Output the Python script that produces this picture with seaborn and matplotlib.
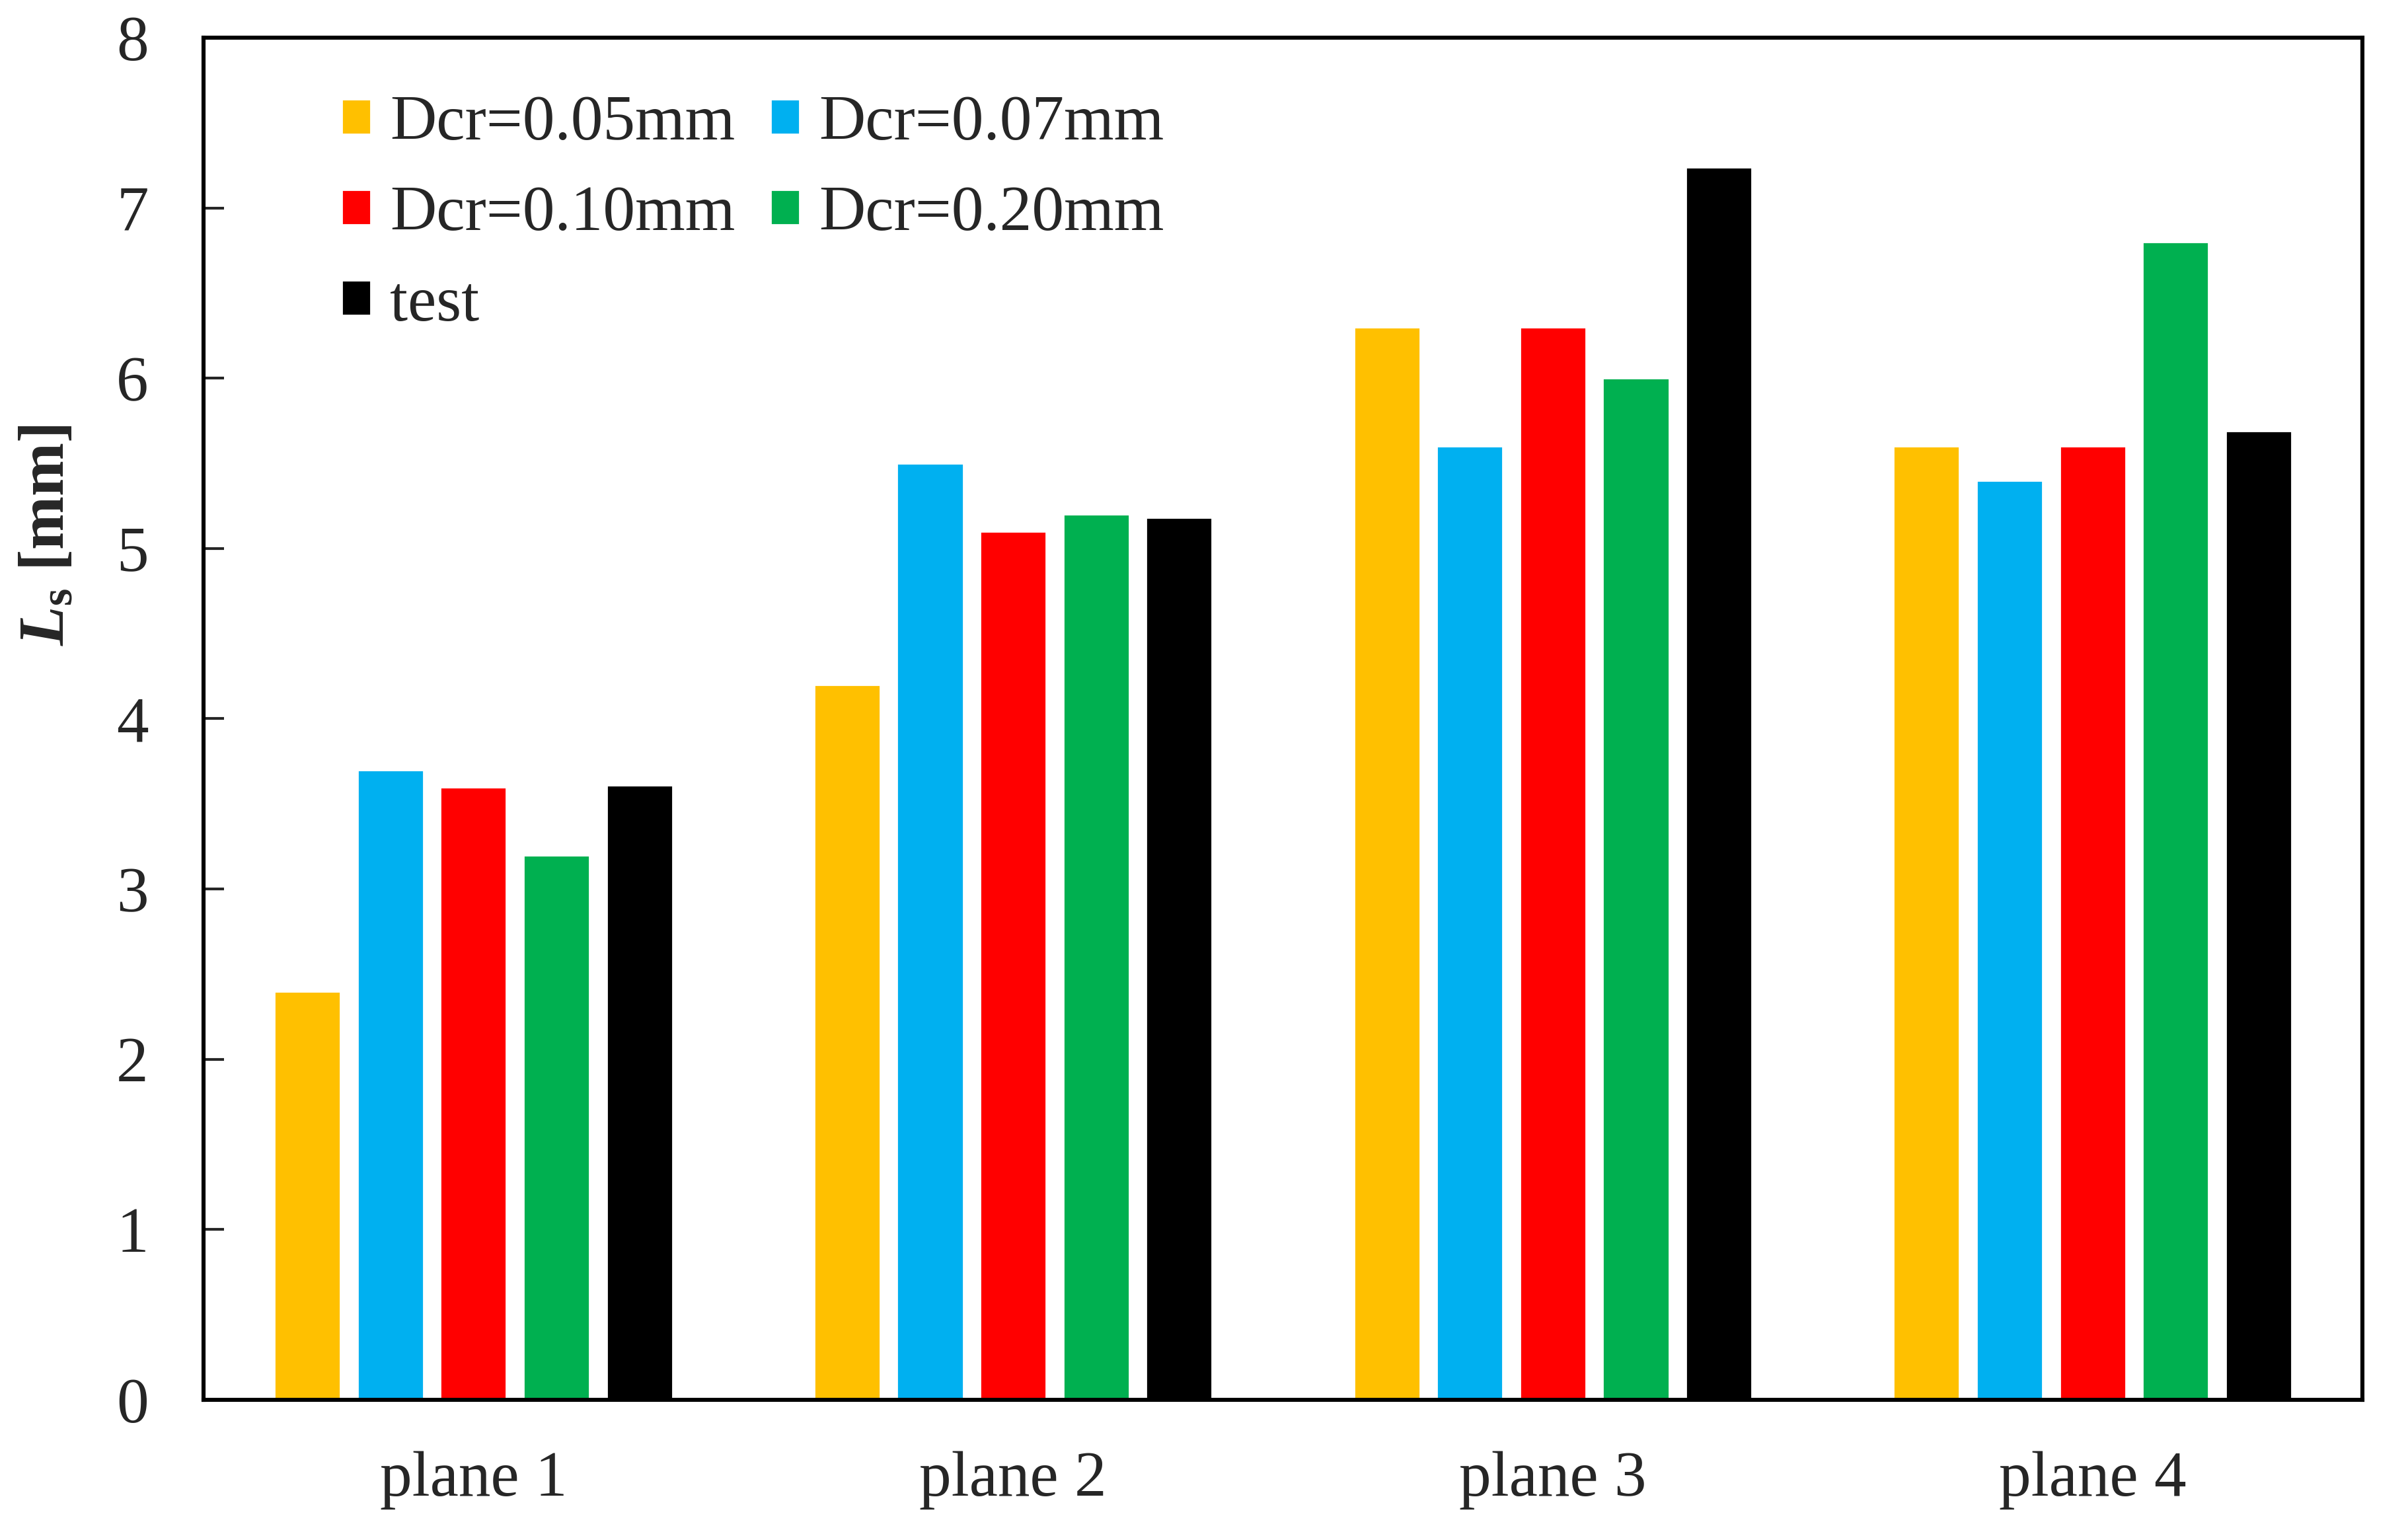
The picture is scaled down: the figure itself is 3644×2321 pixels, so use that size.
import matplotlib
matplotlib.use("Agg")
import matplotlib.pyplot as plt
import seaborn as sns
import pandas as pd

planes = ["plane 1", "plane 2", "plane 3", "plane 4"]
series = ["Dcr=0.05mm", "Dcr=0.07mm", "Dcr=0.10mm", "Dcr=0.20mm", "test"]
dcr005 = [2.4, 4.2, 6.3, 5.6]
dcr007 = [3.7, 5.5, 5.6, 5.4]
dcr010 = [3.6, 5.1, 6.3, 5.6]
dcr020 = [3.2, 5.2, 6.0, 6.8]
test = [3.61, 5.18, 7.24, 5.69]
colors = ["#FFC000", "#00B0F0", "#FF0000", "#00B050", "#000000"]
yticks = [0, 1, 2, 3, 4, 5, 6, 7, 8]

rows = []
for name, vals in zip(series, [dcr005, dcr007, dcr010, dcr020, test]):
    for p, v in zip(planes, vals):
        rows.append({"plane": p, "series": name, "Ls": v})
df = pd.DataFrame(rows)

sns.set_theme(style="ticks")
plt.rcParams["font.family"] = ["Liberation Serif", "DejaVu Serif"]
plt.rcParams["mathtext.fontset"] = "custom"
plt.rcParams["mathtext.it"] = "Liberation Serif:italic:bold"
plt.rcParams["mathtext.rm"] = "Liberation Serif:bold"
plt.rcParams["mathtext.bf"] = "Liberation Serif:bold"

fig = plt.figure(figsize=(18.22, 11.605), dpi=200)
ax = fig.add_axes([0.08452, 0.08746, 0.89654, 0.8880])

sns.barplot(data=df, x="plane", y="Ls", hue="series", order=planes,
            hue_order=series, palette=colors, width=0.769, gap=0.203,
            saturation=1, ax=ax, legend=True)

ax.set_xlim(-0.5, 3.5)
ax.set_ylim(0, 8)
ax.set_yticks(yticks)
ax.set_yticklabels([str(t) for t in yticks])
ax.set_xlabel("")
ax.set_ylabel(r"$L_\mathrm{s}$ [mm]", fontsize=35, fontweight="bold")
ax.yaxis.set_label_coords(-0.0585, 0.635)

for s in ax.spines.values():
    s.set_visible(True)
    s.set_linewidth(2.2)
    s.set_color("black")
ax.tick_params(axis="y", direction="in", length=11, width=1.5, labelsize=35, pad=30)
ax.tick_params(axis="x", length=0, labelsize=35, pad=28)

handles, labels = ax.get_legend_handles_labels()
order = [0, 2, 4, 1, 3]
ax.legend([handles[i] for i in order], [labels[i] for i in order], ncol=2,
          loc="upper left", bbox_to_anchor=(0.064, 0.958),
          frameon=False, fontsize=35, handlelength=0.45, handleheight=0.45,
          handletextpad=0.3, columnspacing=0.55, labelspacing=0.5,
          borderaxespad=0, borderpad=0)

fig.savefig("out.png", dpi=200)
